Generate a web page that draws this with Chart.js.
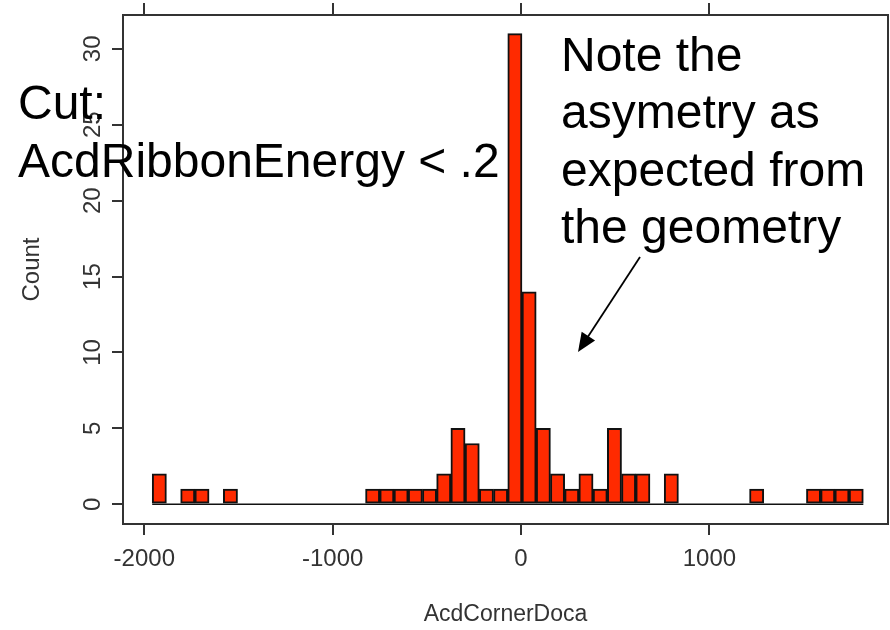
<!DOCTYPE html>
<html>
<head>
<meta charset="utf-8">
<script src="https://cdn.jsdelivr.net/npm/chart.js@4.4.1/dist/chart.umd.min.js"></script>
<style>
  body { margin: 0; background: #fff; }
  #wrap { width: 890px; height: 630px; position: relative; }
</style>
</head>
<body>
<div id="wrap"><canvas id="histChart"></canvas></div>
<script>
// histogram of AcdCornerDoca, 50 equal bins
const binStart = -1958;
const binWidth = 75.5;
const counts = [2, 0, 1, 1, 0, 1, 0, 0, 0, 0,
                0, 0, 0, 0, 0, 1, 1, 1, 1, 1,
                2, 5, 4, 1, 1, 31, 14, 5, 2, 1,
                2, 1, 5, 2, 2, 0, 2, 0, 0, 0,
                0, 0, 1, 0, 0, 0, 1, 1, 1, 1];
const xTicks = [-2000, -1000, 0, 1000];
const yTicks = [0, 5, 10, 15, 20, 25, 30];
const cutText = ['Cut:', 'AcdRibbonEnergy < .2'];
const noteText = ['Note the', 'asymetry as', 'expected from', 'the geometry'];

const axisFont = 'Liberation Sans, Arial, sans-serif';
const axisColor = '#333';

const points = counts.map((c, i) => ({ x: binStart + binWidth * (i + 0.5), y: c }));

// frame, top ticks, baseline, rotated y labels and the annotations
const extras = {
    id: 'extras',
    afterDraw(chart) {
        const { ctx, chartArea: a, scales: { x, y } } = chart;
        ctx.save();
        ctx.strokeStyle = axisColor;
        ctx.lineWidth = 2;
        ctx.beginPath();
        ctx.moveTo(a.left, a.top);
        ctx.lineTo(a.right, a.top);
        ctx.lineTo(a.right, a.bottom);
        xTicks.forEach(v => {
            const px = Math.round(x.getPixelForValue(v));
            ctx.moveTo(px, a.top);
            ctx.lineTo(px, a.top - 12);
        });
        ctx.stroke();

        // zero line under the bins
        ctx.strokeStyle = '#111';
        ctx.lineWidth = 1.5;
        ctx.beginPath();
        const y0 = y.getPixelForValue(0);
        ctx.moveTo(x.getPixelForValue(binStart), y0);
        ctx.lineTo(x.getPixelForValue(binStart + binWidth * counts.length), y0);
        ctx.stroke();

        // y tick labels, rotated
        ctx.fillStyle = axisColor;
        ctx.font = '24px ' + axisFont;
        ctx.textAlign = 'center';
        ctx.textBaseline = 'middle';
        yTicks.forEach(v => {
            ctx.save();
            ctx.translate(92, y.getPixelForValue(v));
            ctx.rotate(-Math.PI / 2);
            ctx.fillText(String(v), 0, 1);
            ctx.restore();
        });

        // annotations
        ctx.fillStyle = '#000';
        ctx.font = '48px ' + axisFont;
        ctx.textAlign = 'left';
        ctx.textBaseline = 'alphabetic';
        cutText.forEach((t, i) => ctx.fillText(t, 18, 119 + i * 58));
        noteText.forEach((t, i) => ctx.fillText(t, 561, 71 + i * 57.3));

        // arrow
        const x1 = 640, y1 = 257, x2 = 578, y2 = 352;
        const ang = Math.atan2(y2 - y1, x2 - x1);
        ctx.strokeStyle = '#000';
        ctx.lineWidth = 1.8;
        ctx.beginPath();
        ctx.moveTo(x1, y1);
        ctx.lineTo(x2 - 14 * Math.cos(ang), y2 - 14 * Math.sin(ang));
        ctx.stroke();
        ctx.beginPath();
        ctx.moveTo(x2, y2);
        ctx.lineTo(x2 - 19 * Math.cos(ang) + 8 * Math.sin(ang), y2 - 19 * Math.sin(ang) - 8 * Math.cos(ang));
        ctx.lineTo(x2 - 19 * Math.cos(ang) - 8 * Math.sin(ang), y2 - 19 * Math.sin(ang) + 8 * Math.cos(ang));
        ctx.closePath();
        ctx.fillStyle = '#000';
        ctx.fill();
        ctx.restore();
    }
};

const ctx = document.getElementById('histChart').getContext('2d');
const histChart = new Chart(ctx, {
    type: 'bar',
    data: {
        datasets: [{
            data: points,
            backgroundColor: '#ff2a00',
            borderColor: '#111',
            borderWidth: 2,
            borderSkipped: false,
            barPercentage: 1,
            categoryPercentage: 1
        }]
    },
    options: {
        responsive: true,
        maintainAspectRatio: false,
        animation: false,
        layout: { padding: { top: 15, right: 2, left: 0, bottom: 0 } },
        plugins: {
            legend: { display: false },
            tooltip: { enabled: false }
        },
        scales: {
            x: {
                type: 'linear',
                min: -2113,
                max: 1948,
                offset: false,
                afterBuildTicks: s => { s.ticks = xTicks.map(v => ({ value: v })); },
                afterFit: s => { s.height = 106; },
                grid: { offset: false, drawOnChartArea: false, drawTicks: true, tickLength: 11, color: axisColor, lineWidth: 2 },
                border: { color: axisColor, width: 2 },
                ticks: {
                    font: { family: axisFont, size: 24 },
                    color: axisColor,
                    padding: 10,
                    maxRotation: 0,
                    autoSkip: false,
                    callback: value => String(value)
                },
                title: {
                    display: true,
                    text: 'AcdCornerDoca',
                    font: { family: axisFont, size: 23 },
                    color: axisColor,
                    padding: { top: 0, bottom: 2 }
                }
            },
            y: {
                min: -1.3,
                max: 32.23,
                afterBuildTicks: s => { s.ticks = yTicks.map(v => ({ value: v })); },
                afterFit: s => { s.width = 123; },
                grid: { drawOnChartArea: false, drawTicks: true, tickLength: 11, color: axisColor, lineWidth: 2 },
                border: { color: axisColor, width: 2 },
                ticks: { display: false },
                title: {
                    display: true,
                    text: 'Count',
                    font: { family: axisFont, size: 24 },
                    color: axisColor,
                    padding: { top: 18, bottom: 0 }
                }
            }
        }
    },
    plugins: [extras]
});
</script>
</body>
</html>
